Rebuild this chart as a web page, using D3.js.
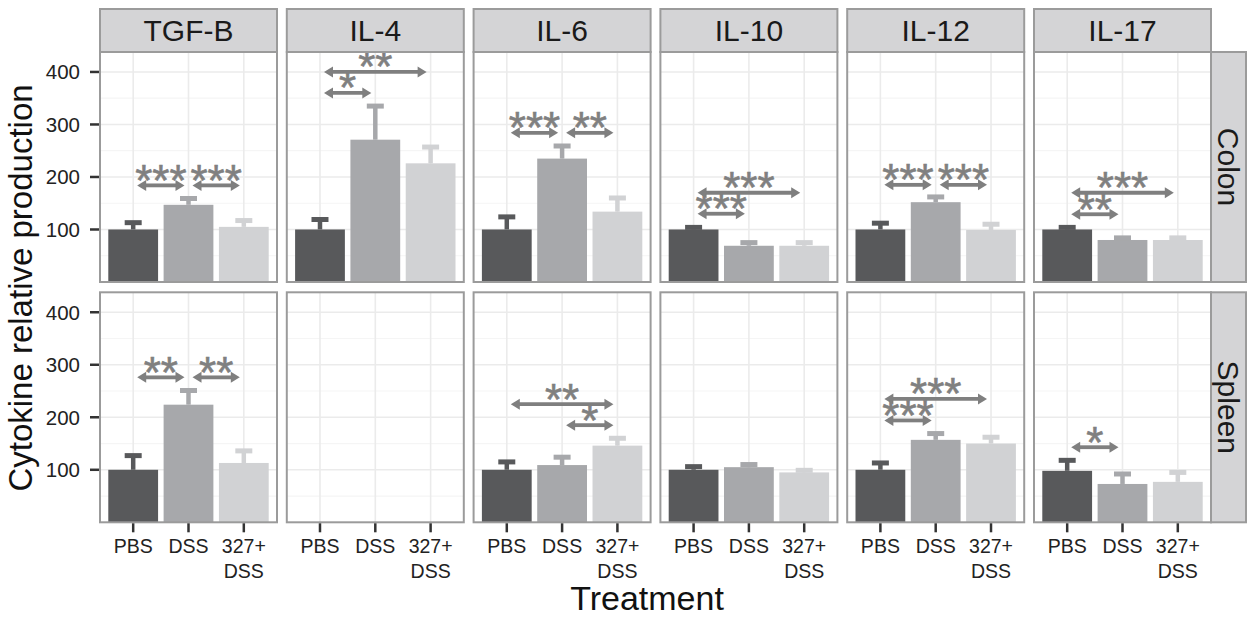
<!DOCTYPE html>
<html>
<head>
<meta charset="utf-8">
<script src="https://cdn.jsdelivr.net/npm/d3@7"></script>
<style>
  body { margin: 0; background: #fff; }
  svg text { font-family: "Liberation Sans", Arial, Helvetica, sans-serif; }
</style>
</head>
<body>
<div id="chart"></div>
<script>
// facet rows / columns
var organs = ["Colon", "Spleen"];
var cytokines = ["TGF-B", "IL-4", "IL-6", "IL-10", "IL-12", "IL-17"];
var treatments = ["PBS", "DSS", "327+DSS"];
var treatmentLabels = [["PBS"], ["DSS"], ["327+", "DSS"]];
var yTicks = [100, 200, 300, 400];
var yMinor = [50, 150, 250, 350];

// mean relative production, one row per cytokine (PBS, DSS, 327+DSS)
var colonMean = [[100, 147, 105], [100, 271, 226], [100, 235, 134],
                 [100, 69, 69], [100, 152, 99], [100, 80, 80]];
var colonSE   = [[13, 12, 12], [19, 64, 31], [24, 24, 26],
                 [4, 6, 6], [12, 10, 11], [4, 4, 4]];
// IL-4 was not measured in spleen
var spleenMean = [[100, 224, 113], null, [100, 109, 146],
                  [100, 105, 95], [100, 157, 150], [98, 73, 77]];
var spleenSE   = [[27, 27, 23], null, [15, 15, 14],
                  [6, 5, 4], [13, 12, 12], [20, 19, 18]];

// significance brackets: [organ, cytokine, from, to, height, label]
var signif = [
  ["Colon", "TGF-B", "PBS", "DSS", 184, "***"],
  ["Colon", "TGF-B", "DSS", "327+DSS", 184, "***"],
  ["Colon", "IL-4", "PBS", "327+DSS", 400, "**"],
  ["Colon", "IL-4", "PBS", "DSS", 360, "*"],
  ["Colon", "IL-6", "PBS", "DSS", 284, "***"],
  ["Colon", "IL-6", "DSS", "327+DSS", 284, "**"],
  ["Colon", "IL-10", "PBS", "327+DSS", 170, "***"],
  ["Colon", "IL-10", "PBS", "DSS", 130, "***"],
  ["Colon", "IL-12", "PBS", "DSS", 185, "***"],
  ["Colon", "IL-12", "DSS", "327+DSS", 185, "***"],
  ["Colon", "IL-17", "PBS", "327+DSS", 170, "***"],
  ["Colon", "IL-17", "PBS", "DSS", 129, "**"],
  ["Spleen", "TGF-B", "PBS", "DSS", 276, "**"],
  ["Spleen", "TGF-B", "DSS", "327+DSS", 276, "**"],
  ["Spleen", "IL-6", "PBS", "327+DSS", 225, "**"],
  ["Spleen", "IL-6", "DSS", "327+DSS", 185, "*"],
  ["Spleen", "IL-12", "PBS", "327+DSS", 235, "***"],
  ["Spleen", "IL-12", "PBS", "DSS", 194, "***"],
  ["Spleen", "IL-17", "PBS", "DSS", 143, "*"]
];

var barColors = ["#58595b", "#a7a8ab", "#d1d2d4"];

var opts = {
  width: 1247, height: 617,
  left: 100, top: 52,
  panelW: 177, panelH: 230,
  gapX: 9.8, gapY: 10.3,
  stripH: 43, stripW: 35,
  border: "#9b9b9b", stripFill: "#d4d4d6",
  grid: "#ebebeb", gridMinor: "#f5f5f5",
  arrow: "#7f7f7f"
};

var svg = d3.select("#chart").append("svg")
  .attr("width", opts.width)
  .attr("height", opts.height);

var x = d3.scaleBand().domain(treatments).range([0, opts.panelW])
  .paddingInner(0.1).paddingOuter(0.15);
var y = d3.scaleLinear().domain([0, 438]).range([opts.panelH, 0]);

function panelX(ci) { return opts.left + ci * (opts.panelW + opts.gapX); }
function panelY(ri) { return opts.top + ri * (opts.panelH + opts.gapY); }
function cx(t) { return x(t) + x.bandwidth() / 2; }

organs.forEach(function(organ, ri) {
  var means = ri === 0 ? colonMean : spleenMean;
  var ses = ri === 0 ? colonSE : spleenSE;

  cytokines.forEach(function(cyto, ci) {
    var g = svg.append("g")
      .attr("transform", "translate(" + panelX(ci) + "," + panelY(ri) + ")");

    // background grid
    g.selectAll(".minor").data(yMinor).enter().append("line")
      .attr("x1", 0).attr("x2", opts.panelW)
      .attr("y1", function(d) { return y(d); }).attr("y2", function(d) { return y(d); })
      .attr("stroke", opts.gridMinor).attr("stroke-width", 1.2);
    g.selectAll(".major").data(yTicks).enter().append("line")
      .attr("x1", 0).attr("x2", opts.panelW)
      .attr("y1", function(d) { return y(d); }).attr("y2", function(d) { return y(d); })
      .attr("stroke", opts.grid).attr("stroke-width", 1.6);
    g.selectAll(".vgrid").data(treatments).enter().append("line")
      .attr("x1", cx).attr("x2", cx)
      .attr("y1", 0).attr("y2", opts.panelH)
      .attr("stroke", opts.grid).attr("stroke-width", 1.6);

    var m = means[ci], s = ses[ci];
    if (m) {
      treatments.forEach(function(t, ti) {
        g.append("rect")
          .attr("x", x(t)).attr("width", x.bandwidth())
          .attr("y", y(m[ti])).attr("height", y(0) - y(m[ti]))
          .attr("fill", barColors[ti]);
        var top = y(m[ti] + s[ti]);
        g.append("line")
          .attr("x1", cx(t)).attr("x2", cx(t))
          .attr("y1", y(m[ti])).attr("y2", top)
          .attr("stroke", barColors[ti]).attr("stroke-width", 4.5);
        g.append("line")
          .attr("x1", cx(t) - 8.5).attr("x2", cx(t) + 8.5)
          .attr("y1", top).attr("y2", top)
          .attr("stroke", barColors[ti]).attr("stroke-width", 5);
      });
    }

    // significance arrows
    signif.filter(function(d) { return d[0] === organ && d[1] === cyto; })
      .forEach(function(d) {
        var x1 = cx(d[2]) + 4, x2 = cx(d[3]) - 4, yy = y(d[4]);
        var hl = 9, hw = 5.5;
        g.append("line")
          .attr("x1", x1 + hl - 1).attr("x2", x2 - hl + 1)
          .attr("y1", yy).attr("y2", yy)
          .attr("stroke", opts.arrow).attr("stroke-width", 3.8);
        g.append("path")
          .attr("d", "M" + x1 + "," + yy + "L" + (x1 + hl) + "," + (yy - hw) +
                     "L" + (x1 + hl) + "," + (yy + hw) + "Z")
          .attr("fill", opts.arrow);
        g.append("path")
          .attr("d", "M" + x2 + "," + yy + "L" + (x2 - hl) + "," + (yy - hw) +
                     "L" + (x2 - hl) + "," + (yy + hw) + "Z")
          .attr("fill", opts.arrow);
        g.append("text")
          .attr("x", (cx(d[2]) + cx(d[3])) / 2)
          .attr("y", yy + 10.5)
          .attr("text-anchor", "middle")
          .attr("font-size", 44)
          .attr("fill", "#808080")
          .attr("stroke", "#808080").attr("stroke-width", 0.6)
          .text(d[5]);
      });

    // panel border
    g.append("rect")
      .attr("width", opts.panelW).attr("height", opts.panelH)
      .attr("fill", "none").attr("stroke", opts.border).attr("stroke-width", 2);

    // left axis
    if (ci === 0) {
      var ya = g.append("g");
      ya.selectAll("line").data(yTicks).enter().append("line")
        .attr("x1", -10).attr("x2", -1)
        .attr("y1", function(d) { return y(d); }).attr("y2", function(d) { return y(d); })
        .attr("stroke", "#333").attr("stroke-width", 2.5);
      ya.selectAll("text").data(yTicks).enter().append("text")
        .attr("x", -20).attr("y", function(d) { return y(d); })
        .attr("dy", "0.36em")
        .attr("text-anchor", "end").attr("font-size", 20.5).attr("fill", "#222")
        .text(function(d) { return d; });
    }

    // bottom axis
    if (ri === organs.length - 1) {
      var xa = g.append("g").attr("transform", "translate(0," + opts.panelH + ")");
      treatments.forEach(function(t, ti) {
        xa.append("line")
          .attr("x1", cx(t)).attr("x2", cx(t))
          .attr("y1", 1).attr("y2", 10)
          .attr("stroke", "#333").attr("stroke-width", 2.5);
        var txt = xa.append("text")
          .attr("text-anchor", "middle").attr("font-size", 19.5).attr("fill", "#222");
        treatmentLabels[ti].forEach(function(line, li) {
          txt.append("tspan").attr("x", cx(t)).attr("y", 31 + li * 25).text(line);
        });
      });
    }

    // top strip
    if (ri === 0) {
      g.append("rect")
        .attr("y", -opts.stripH).attr("width", opts.panelW).attr("height", opts.stripH)
        .attr("fill", opts.stripFill).attr("stroke", opts.border).attr("stroke-width", 2);
      g.append("text")
        .attr("x", opts.panelW / 2).attr("y", -opts.stripH / 2 + 10.7)
        .attr("text-anchor", "middle").attr("font-size", 30).attr("fill", "#1a1a1a")
        .text(cyto);
    }

    // right strip
    if (ci === cytokines.length - 1) {
      g.append("rect")
        .attr("x", opts.panelW).attr("width", opts.stripW).attr("height", opts.panelH)
        .attr("fill", opts.stripFill).attr("stroke", opts.border).attr("stroke-width", 2);
      var sx = opts.panelW + opts.stripW / 2 - 10.7, sy = opts.panelH / 2;
      g.append("text")
        .attr("transform", "translate(" + sx + "," + sy + ") rotate(90)")
        .attr("text-anchor", "middle").attr("font-size", 30).attr("fill", "#1a1a1a")
        .text(organ);
    }
  });
});

// axis titles
svg.append("text")
  .attr("x", 647).attr("y", 610)
  .attr("text-anchor", "middle").attr("font-size", 34).attr("fill", "#111")
  .text("Treatment");
svg.append("text")
  .attr("transform", "translate(32,288) rotate(-90)")
  .attr("text-anchor", "middle").attr("font-size", 33).attr("fill", "#111")
  .text("Cytokine relative production");
</script>
</body>
</html>
